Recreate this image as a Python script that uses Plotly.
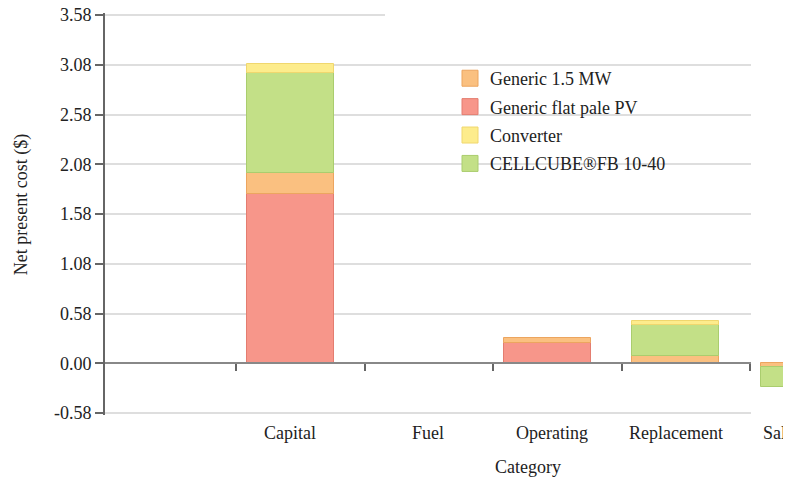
import plotly.graph_objects as go

# ---- data ----
categories = ["Capital", "Fuel", "Operating", "Replacement", "Salvage"]
cat_pos = [1, 2, 3, 4, 5]
pv_vals = [1.70, None, 0.207, None, None]          # Generic flat pale PV
wind_vals = [0.21, None, 0.046, 0.073, -0.037]     # Generic 1.5 MW
cellcube_vals = [1.01, None, None, 0.307, -0.20]   # CELLCUBE®FB 10-40
conv_vals = [0.09, None, None, 0.043, None]        # Converter
y_tickvals = [-0.5, 0.0, 0.5, 1.0, 1.5, 2.0, 2.5, 3.0, 3.5]
y_ticktext = ["-0.58", "0.00", "0.58", "1.08", "1.58", "2.08", "2.58", "3.08", "3.58"]
x_boundaries = [0.58, 1.58, 2.58, 3.58, 4.58]

# style: small horizontal nudges of the category labels (px)
label_nudge = [0, 9, 5, 0, -13]

series = [
    ("Generic flat pale PV", pv_vals, "rgb(247,150,138)", "rgb(228,125,112)", 2),
    ("Generic 1.5 MW", wind_vals, "rgb(250,192,128)", "rgb(236,165,95)", 1),
    ("CELLCUBE®FB 10-40", cellcube_vals, "rgb(195,224,135)", "rgb(170,205,110)", 4),
    ("Converter", conv_vals, "rgb(253,236,140)", "rgb(240,215,110)", 3),
]

FONT = "Liberation Serif"
TXT = "#222222"

# page body margin offsets the figure by 8px
OFF = 8
W, H = 791 - OFF, 480 - OFF
y_lo, y_hi = -0.52, 3.52
zero_px, top_tick_px = 363, 15            # window pixels of value 0 and 3.5
k = (zero_px - top_tick_px) / 3.5          # px per unit
plot_top = zero_px - k * y_hi
plot_bot = zero_px - k * y_lo
L = 105 - OFF
T = plot_top - OFF
B = H - (plot_bot - OFF)
plot_w = W - L
plot_h = H - T - B
grid_right = 751 - OFF
px0, px_step = 161.5 - OFF, 128.5
x_lo = (L - px0) / px_step
x_mid = (grid_right - px0) / px_step
x_hi = (W - px0) / px_step
d1 = (grid_right - L) / plot_w


def pxx(wx):
    return (wx - OFF - L) / plot_w


def pxy(wy):
    return (H - B - (wy - OFF)) / plot_h


fig = go.Figure()
for name, vals, col, lcol, rank in series:
    for xa, ya in (("x", "y"), ("x3", "y3")):
        fig.add_trace(go.Bar(
            x=cat_pos, y=vals, name=name, legendgroup=name,
            showlegend=False, width=0.677,
            marker=dict(color=col, line=dict(color=lcol, width=1)),
            xaxis=xa, yaxis=ya, hoverinfo="skip"))
    # legend swatch (larger square than the default bar swatch)
    fig.add_trace(go.Scatter(
        x=[None], y=[None], mode="markers", name=name, legendgroup=name,
        legendrank=rank, showlegend=True,
        marker=dict(symbol="square", size=16, color=col,
                    line=dict(color=lcol, width=1)),
        xaxis="x", yaxis="y", hoverinfo="skip"))


def paper_x(v):
    return (v - x_lo) / (x_hi - x_lo)


annotations = []
for c, p, nudge in zip(categories, cat_pos, label_nudge):
    annotations.append(dict(text=c, x=paper_x(p), xref="paper", y=pxy(421), yref="paper",
                            yanchor="top", xanchor="center", xshift=nudge, showarrow=False,
                            font=dict(family=FONT, size=18, color=TXT)))
annotations.append(dict(text="Category", x=pxx(527.5), xref="paper",
                        y=pxy(467), yref="paper", showarrow=False,
                        xanchor="center", yanchor="middle",
                        font=dict(family=FONT, size=18, color=TXT)))
annotations.append(dict(text="Net present cost ($)", x=pxx(21), xref="paper",
                        y=pxy(205), yref="paper", showarrow=False,
                        textangle=-90, xanchor="center", yanchor="middle",
                        font=dict(family=FONT, size=18, color=TXT)))

fig.update_layout(
    width=W, height=H,
    margin=dict(l=L, r=0, t=T, b=B, autoexpand=False),
    paper_bgcolor="white", plot_bgcolor="white",
    barmode="relative", bargap=0,
    showlegend=True,
    legend=dict(x=pxx(450), y=pxy(60),
                xanchor="left", yanchor="top", bgcolor="rgba(0,0,0,0)",
                font=dict(family=FONT, size=18, color=TXT), tracegroupgap=2,
                itemclick=False, itemsizing="trace"),
    xaxis=dict(domain=[0, d1], range=[x_lo, x_mid], anchor="free",
               position=(0 - y_lo) / (y_hi - y_lo), automargin=False,
               tickvals=x_boundaries, ticks="outside", ticklen=7, tickwidth=1.5,
               tickcolor="#666", showticklabels=False, showline=True,
               linecolor="#888", linewidth=1.5, showgrid=False, zeroline=False),
    yaxis=dict(domain=[0, 1], range=[y_lo, y_hi], anchor="x", automargin=False,
               tickvals=y_tickvals, ticktext=y_ticktext, ticks="outside",
               ticklen=8, tickwidth=1.5, tickcolor="#666", showline=True,
               linecolor="#666", linewidth=2, showgrid=True, gridcolor="#dedede",
               gridwidth=1.5, zeroline=False, ticklabeloverflow="allow",
               tickfont=dict(family=FONT, size=18, color=TXT)),
    xaxis3=dict(domain=[d1, 1], range=[x_mid, x_hi], anchor="y3", visible=False,
                showgrid=False, zeroline=False, automargin=False),
    yaxis3=dict(domain=[0, 1], range=[y_lo, y_hi], anchor="x3", visible=False,
                showgrid=False, zeroline=False, automargin=False),
    annotations=annotations,
    shapes=[dict(type="rect", xref="x", yref="y", x0=(385 - OFF - px0) / px_step, x1=x_mid,
                 y0=3.5 - 0.015, y1=3.5 + 0.015, fillcolor="white",
                 line=dict(width=0), layer="between")],
)

fig.write_html("out.html")
